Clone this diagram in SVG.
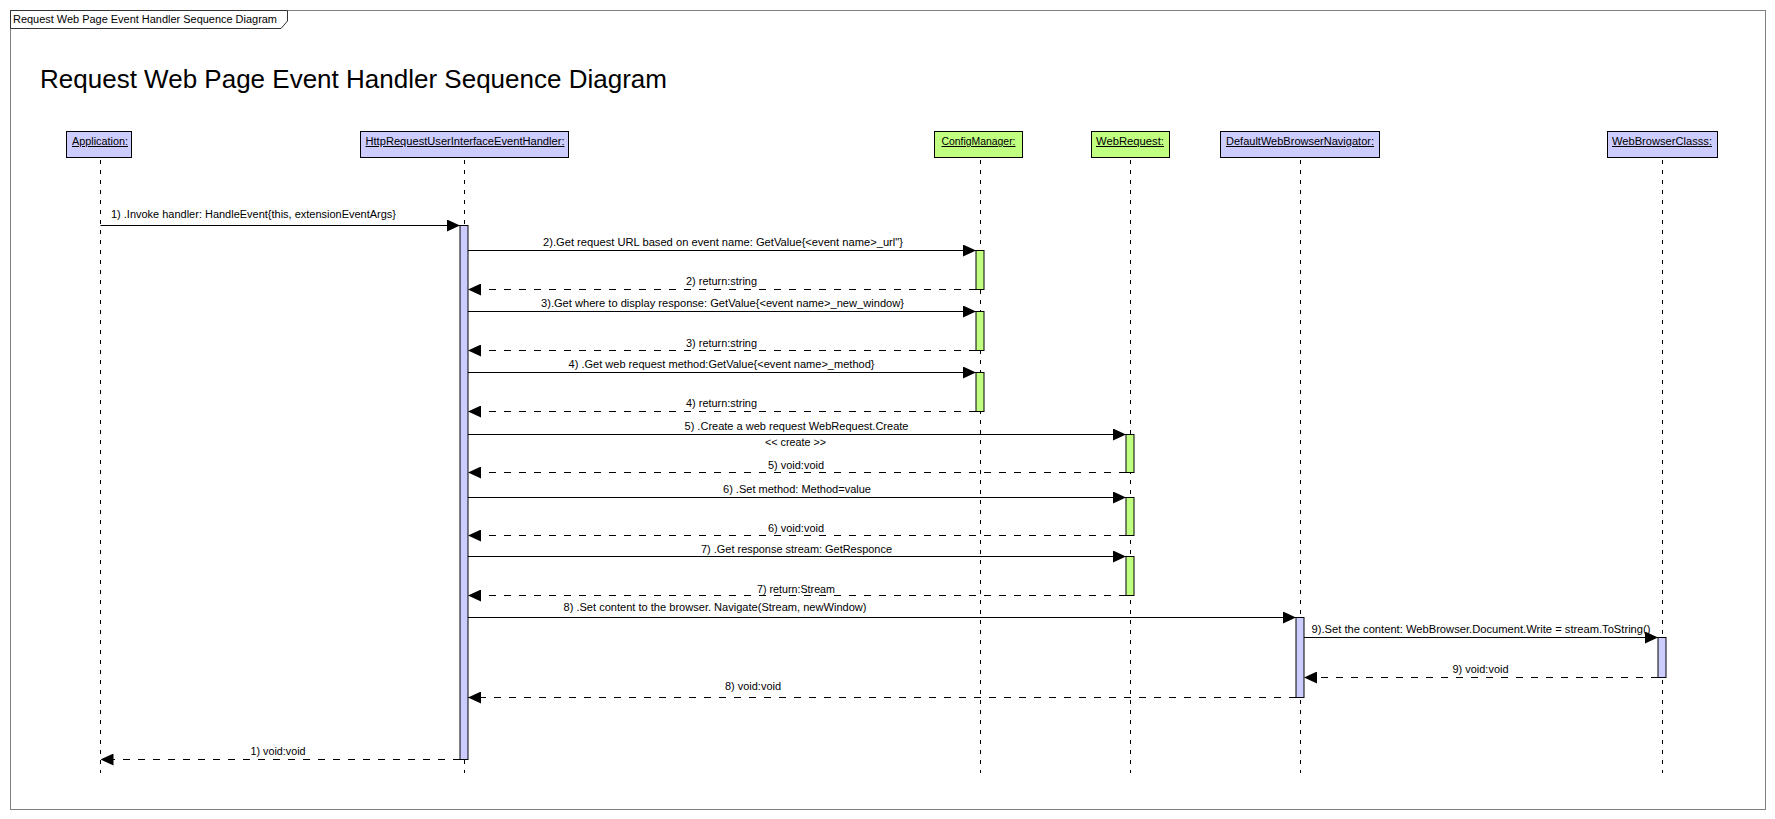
<svg xmlns="http://www.w3.org/2000/svg" width="1775" height="819" viewBox="0 0 1775 819">
<style>
text{font-family:"Liberation Sans",Arial,sans-serif;font-size:10px;fill:#000}
.box{stroke:#000;stroke-width:1}
.lav{fill:#CCCCFF}
.grn{fill:#C0FF80}
.life{stroke:#000;stroke-width:1;stroke-dasharray:4 6;fill:none}
.msg{stroke:#000;stroke-width:1;fill:none;marker-end:url(#ah)}
.ret{stroke:#000;stroke-width:1;fill:none;stroke-dasharray:7 8;marker-end:url(#ah)}
.lbl{text-decoration:underline}
</style>
<defs>
<marker id="ah" markerUnits="userSpaceOnUse" markerWidth="13" markerHeight="12" refX="13" refY="6" orient="auto">
<path d="M0,0 L13,6 L0,12 Z" fill="#000"/>
</marker>
</defs>
<rect x="0" y="0" width="1775" height="819" fill="#fff"/>
<g id="frame">
<rect x="10.5" y="10.5" width="1755" height="799" fill="none" stroke="#808080" stroke-width="1"/>
<polygon points="10.5,10.5 287.5,10.5 287.5,21 281,28.5 10.5,28.5" fill="#fff" stroke="#333" stroke-width="1"/>
<text x="13" y="23" textLength="264" lengthAdjust="spacingAndGlyphs">Request Web Page Event Handler Sequence Diagram</text>
<text x="40" y="88" style="font-size:25px" textLength="627" lengthAdjust="spacingAndGlyphs">Request Web Page Event Handler Sequence Diagram</text>
</g>
<g id="node-application">
<line class="life" x1="100.5" y1="160" x2="100.5" y2="773"/>
<rect class="box lav" x="66.5" y="131.5" width="65" height="26"/>
<text class="lbl" x="72" y="145" textLength="56" lengthAdjust="spacingAndGlyphs">Application:</text>
</g>
<g id="node-handler">
<line class="life" x1="464.5" y1="160" x2="464.5" y2="773"/>
<rect class="box lav" x="360.5" y="131.5" width="208" height="26"/>
<text class="lbl" x="365.5" y="145" textLength="199" lengthAdjust="spacingAndGlyphs">HttpRequestUserInterfaceEventHandler:</text>
<rect class="box lav" x="460" y="225.5" width="8" height="534"/>
</g>
<g id="node-configmanager">
<line class="life" x1="980.5" y1="160" x2="980.5" y2="773"/>
<rect class="box grn" x="934.5" y="131.5" width="88" height="26"/>
<text class="lbl" x="941.5" y="145" textLength="74" lengthAdjust="spacingAndGlyphs">ConfigManager:</text>
<rect class="box grn" x="976" y="250.5" width="8" height="39"/>
<rect class="box grn" x="976" y="311.5" width="8" height="39"/>
<rect class="box grn" x="976" y="372.5" width="8" height="39"/>
</g>
<g id="node-webrequest">
<line class="life" x1="1130.5" y1="160" x2="1130.5" y2="773"/>
<rect class="box grn" x="1091.5" y="131.5" width="78" height="26"/>
<text class="lbl" x="1096" y="145" textLength="68" lengthAdjust="spacingAndGlyphs">WebRequest:</text>
<rect class="box grn" x="1126" y="434.5" width="8" height="38"/>
<rect class="box grn" x="1126" y="497.5" width="8" height="38"/>
<rect class="box grn" x="1126" y="556.5" width="8" height="39"/>
</g>
<g id="node-navigator">
<line class="life" x1="1300.5" y1="160" x2="1300.5" y2="773"/>
<rect class="box lav" x="1220.5" y="131.5" width="159" height="26"/>
<text class="lbl" x="1226" y="145" textLength="148" lengthAdjust="spacingAndGlyphs">DefaultWebBrowserNavigator:</text>
<rect class="box lav" x="1296" y="617.5" width="8" height="80"/>
</g>
<g id="node-browserclass">
<line class="life" x1="1662.5" y1="160" x2="1662.5" y2="773"/>
<rect class="box lav" x="1607.5" y="131.5" width="110" height="26"/>
<text class="lbl" x="1612" y="145" textLength="100" lengthAdjust="spacingAndGlyphs">WebBrowserClasss:</text>
<rect class="box lav" x="1658" y="637.5" width="8" height="40"/>
</g>
<g id="connectors">
<line class="msg" x1="100.5" y1="225.5" x2="460" y2="225.5"/>
<text x="111" y="218" textLength="285" lengthAdjust="spacingAndGlyphs">1) .Invoke handler: HandleEvent{this, extensionEventArgs}</text>

<line class="msg" x1="468" y1="250.5" x2="976" y2="250.5"/>
<text x="543" y="246" textLength="360" lengthAdjust="spacingAndGlyphs">2).Get request URL based on event name: GetValue{&lt;event name&gt;_url"}</text>
<line class="ret" x1="976" y1="289.5" x2="468" y2="289.5"/>
<text x="686" y="285" textLength="71" lengthAdjust="spacingAndGlyphs">2) return:string</text>

<line class="msg" x1="468" y1="311.5" x2="976" y2="311.5"/>
<text x="541" y="307" textLength="363" lengthAdjust="spacingAndGlyphs">3).Get where to display response: GetValue{&lt;event name&gt;_new_window}</text>
<line class="ret" x1="976" y1="350.5" x2="468" y2="350.5"/>
<text x="686" y="346.5" textLength="71" lengthAdjust="spacingAndGlyphs">3) return:string</text>

<line class="msg" x1="468" y1="372.5" x2="976" y2="372.5"/>
<text x="568.5" y="368" textLength="306" lengthAdjust="spacingAndGlyphs">4) .Get web request method:GetValue{&lt;event name&gt;_method}</text>
<line class="ret" x1="976" y1="411.5" x2="468" y2="411.5"/>
<text x="686" y="407" textLength="71" lengthAdjust="spacingAndGlyphs">4) return:string</text>

<line class="msg" x1="468" y1="434.5" x2="1126" y2="434.5"/>
<text x="684.5" y="430" textLength="224" lengthAdjust="spacingAndGlyphs">5) .Create a web request WebRequest.Create</text>
<text x="765" y="446" textLength="61" lengthAdjust="spacingAndGlyphs">&lt;&lt; create &gt;&gt;</text>
<line class="ret" x1="1126" y1="472.5" x2="468" y2="472.5"/>
<text x="768" y="469" textLength="56" lengthAdjust="spacingAndGlyphs">5) void:void</text>

<line class="msg" x1="468" y1="497.5" x2="1126" y2="497.5"/>
<text x="723" y="492.5" textLength="148" lengthAdjust="spacingAndGlyphs">6) .Set method: Method=value</text>
<line class="ret" x1="1126" y1="535.5" x2="468" y2="535.5"/>
<text x="768" y="532" textLength="56" lengthAdjust="spacingAndGlyphs">6) void:void</text>

<line class="msg" x1="468" y1="556.5" x2="1126" y2="556.5"/>
<text x="701" y="552.5" textLength="191" lengthAdjust="spacingAndGlyphs">7) .Get response stream: GetResponce</text>
<line class="ret" x1="1126" y1="595.5" x2="468" y2="595.5"/>
<text x="757" y="592.5" textLength="78" lengthAdjust="spacingAndGlyphs">7) return:Stream</text>

<line class="msg" x1="468" y1="617.5" x2="1296" y2="617.5"/>
<text x="563.5" y="610.5" textLength="303" lengthAdjust="spacingAndGlyphs">8) .Set content to the browser. Navigate(Stream, newWindow)</text>

<line class="msg" x1="1304" y1="637.5" x2="1658" y2="637.5"/>
<text x="1311.5" y="632.5" textLength="339" lengthAdjust="spacingAndGlyphs">9).Set the content: WebBrowser.Document.Write = stream.ToString()</text>
<line class="ret" x1="1658" y1="677.5" x2="1304" y2="677.5"/>
<text x="1452.5" y="672.5" textLength="56" lengthAdjust="spacingAndGlyphs">9) void:void</text>

<line class="ret" x1="1296" y1="697.5" x2="468" y2="697.5"/>
<text x="725" y="690" textLength="56" lengthAdjust="spacingAndGlyphs">8) void:void</text>

<line class="ret" x1="460" y1="759.5" x2="100.5" y2="759.5"/>
<text x="250.5" y="755" textLength="55" lengthAdjust="spacingAndGlyphs">1) void:void</text>
</g>
</svg>
